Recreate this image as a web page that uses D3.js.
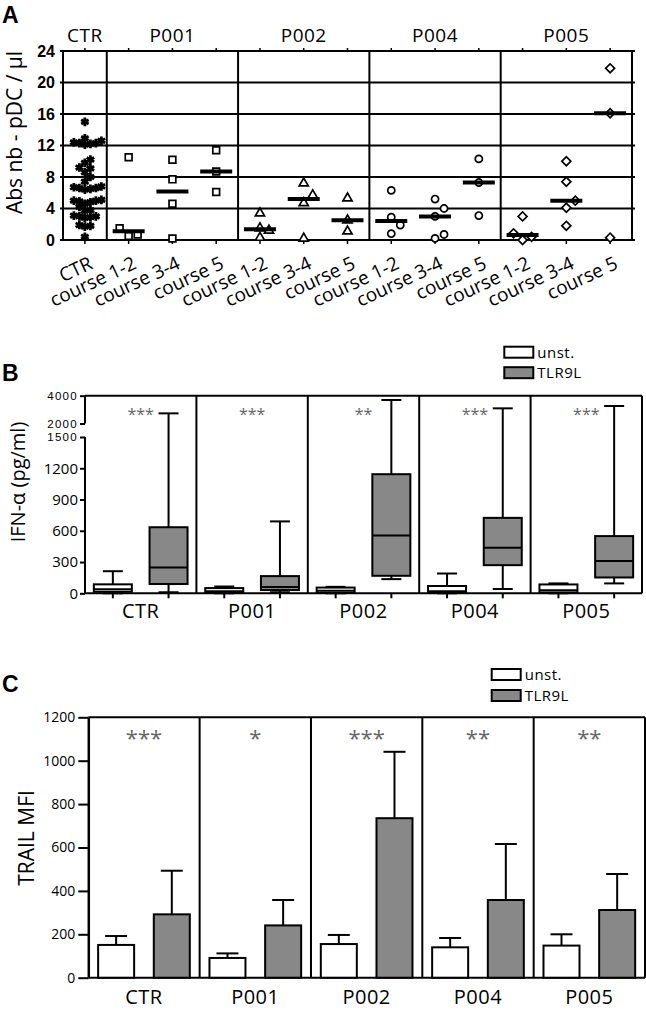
<!DOCTYPE html>
<html><head><meta charset="utf-8">
<script src="https://cdn.jsdelivr.net/npm/d3@7"></script>
<style>body{margin:0;background:#fff} svg{display:block}</style>
</head><body>
<script>
// ---------- DATA ----------
const patients = ["CTR","P001","P002","P004","P005"];
const courses = ["course 1-2","course 3-4","course 5"];
const ctrCounts = [15.0,12.9,12.6,12.4,12.3,12.3,12.2,12.1,10.2,9.8,9.2,9.1,8.6,8.0,7.4,
  6.8,6.7,6.6,6.6,6.5,6.4,5.1,5.0,5.0,4.9,4.8,4.6,4.2,3.8,3.7,3.1,3.0,3.0,2.9,2.8,1.9,1.8,1.7,0.4];
const p001Counts = [[10.5,1.5,0.5,0.7],[10.2,7.7,4.6,0.2],[11.4,8.7,6.1]];
const p002Counts = [[3.4,1.5,0.3,1.2],[7.2,5.7,4.7,0.2],[5.3,2.5,1.1]];
const p004Counts = [[6.3,2.9,1.9,0.8],[5.2,4.0,3.0,0.7,0.2],[10.3,7.3,3.1]];
const p005Counts = [[3.0,0.85,0.4,0.0],[10.0,7.4,5.0,4.1,1.8],[21.8,16.1,0.3]];
const countTicks = [0,4,8,12,16,20,24];

const seriesNames = ["unst.","TLR9L"];
// five-number summaries [min, q1, median, q3, max]
const ifnUnst = [[0,15,40,86,212],[0,5,20,50,65],[0,5,25,55,62],[0,5,20,70,190],[0,8,30,85,95]];
const ifnTlr  = [[10,89,248,634,2730],[10,31,60,165,690],[136,168,555,1143,3690],[41,270,438,724,3090],[95,152,310,549,3260]];
const ifnTicks = [0,300,600,900,1200,1500,2000,4000];
const ifnStars = ["***","***","**","***","***"];

const trailUnst   = [151,91,155,140,148];
const trailUnstSD = [41,21,42,43,52];
const trailTlr    = [292,241,735,358,312];
const trailTlrSD  = [201,117,306,258,166];
const trailTicks  = [0,200,400,600,800,1000,1200];
const trailStars  = ["***","*","***","**","**"];

// ---------- SETUP ----------
const W = 646, H = 1011;
const FONT = "'Open Sans', sans-serif";
const GRAY = "#888";
const svg = d3.select("body").append("svg").attr("width", W).attr("height", H)
  .style("font-family", FONT);

function panelLetter(t, x, y) {
  svg.append("text").attr("x", x).attr("y", y).text(t)
    .style("font-family", "'Liberation Sans', Arial, sans-serif")
    .style("font-weight", "bold").style("font-size", "23px");
}

// ---------- PANEL A ----------
(function () {
  const top = 51, bottom = 240, left = 63, right = 632;
  const byPatient = {P001: p001Counts, P002: p002Counts, P004: p004Counts, P005: p005Counts};
  const symbols = {CTR: d3.symbolAsterisk, P001: d3.symbolSquare, P002: d3.symbolTriangle,
                   P004: d3.symbolCircle, P005: d3.symbolSquare};
  const sizes = {CTR: 52, P001: 46, P002: 36, P004: 40, P005: 40};
  const cats = [{key: "CTR", label: "CTR", patient: "CTR", values: ctrCounts}];
  patients.slice(1).forEach(p => courses.forEach((c, i) =>
    cats.push({key: p + "|" + c, label: c, patient: p, values: byPatient[p][i]})));

  const x = d3.scaleBand().domain(cats.map(d => d.key)).range([left, right]);
  const y = d3.scaleLinear().domain([0, 24]).range([bottom, top]);
  const g = svg.append("g");

  g.selectAll("line.grid").data(countTicks).join("line")
    .attr("x1", left - 3).attr("x2", right + 3)
    .attr("y1", d => y(d)).attr("y2", d => y(d))
    .attr("stroke", "#000").attr("stroke-width", 1.8);

  const tickX = cats.map(d => x(d.key) + x.bandwidth() / 2);
  g.selectAll("line.tt").data(tickX).join("line")
    .attr("x1", d => d).attr("x2", d => d).attr("y1", top).attr("y2", top - 3)
    .attr("stroke", "#000").attr("stroke-width", 1.5);
  g.selectAll("line.bt").data(tickX).join("line")
    .attr("x1", d => d).attr("x2", d => d).attr("y1", bottom).attr("y2", bottom + 4)
    .attr("stroke", "#000").attr("stroke-width", 1.5);

  const sepIdx = [0, 1, 4, 7, 10, 13];
  g.selectAll("line.sep").data(sepIdx).join("line")
    .attr("x1", i => i < cats.length ? x(cats[i].key) : right)
    .attr("x2", i => i < cats.length ? x(cats[i].key) : right)
    .attr("y1", top).attr("y2", bottom)
    .attr("stroke", "#000").attr("stroke-width", 2);

  g.selectAll("text.yt").data(countTicks).join("text")
    .attr("x", left - 8).attr("y", d => y(d)).attr("dy", "0.36em")
    .attr("text-anchor", "end").text(d => d)
    .style("font-family", "'Liberation Sans', Arial, sans-serif")
    .style("font-weight", "bold").style("font-size", "16px");

  g.append("text").attr("transform", `translate(22,${(top + bottom) / 2 - 13}) rotate(-90)`)
    .attr("text-anchor", "middle").text("Abs nb - pDC / µl").style("font-size", "21px");

  const titleIdx = {CTR: 0, P001: 2, P002: 5, P004: 8, P005: 11};
  g.selectAll("text.gt").data(patients).join("text")
    .attr("x", p => tickX[titleIdx[p]]).attr("y", 42).attr("text-anchor", "middle")
    .text(p => p).style("font-size", "19px").style("letter-spacing", "0.5px");

  g.selectAll("text.xl").data(cats).join("text")
    .attr("transform", (d, i) => `translate(${tickX[i] + 9},268) rotate(-25)`)
    .attr("text-anchor", "end").text(d => d.label).style("font-size", "19px");

  function swarm(vals, dist) {
    const sorted = vals.map((v, i) => ({v, i})).sort((a, b) => a.v - b.v);
    const placed = [], out = [];
    for (const p of sorted) {
      const py = y(p.v);
      let k = 0, off = 0;
      for (;;) {
        off = k === 0 ? 0 : (k % 2 ? 1 : -1) * Math.ceil(k / 2) * dist;
        if (placed.every(q => Math.hypot(q.x - off, q.y - py) >= dist)) break;
        k++;
      }
      placed.push({x: off, y: py});
      out.push({v: p.v, dx: off, py});
    }
    return out;
  }

  cats.forEach((c, i) => {
    const pts = swarm(c.values, c.patient === "CTR" ? 5.5 : 9);
    const sym = d3.symbol().type(symbols[c.patient]).size(sizes[c.patient]);
    g.append("g").selectAll("path").data(pts).join("path")
      .attr("transform", d => `translate(${tickX[i] + d.dx},${d.py})` + (c.patient === "P005" ? " rotate(45)" : ""))
      .attr("d", sym())
      .attr("fill", c.patient === "CTR" ? "#000" : "#fff")
      .attr("stroke", "#000")
      .attr("stroke-width", c.patient === "CTR" ? 2.8 : 1.7);
    if (c.patient !== "CTR") {
      const m = d3.median(c.values);
      g.append("line").attr("x1", tickX[i] - 16).attr("x2", tickX[i] + 16)
        .attr("y1", y(m)).attr("y2", y(m)).attr("stroke", "#000").attr("stroke-width", 4);
    }
  });
  panelLetter("A", 2, 23);
})();

// ---------- LEGEND ----------
function legend(x0, y0, gap, fs) {
  const g = svg.append("g");
  seriesNames.forEach((s, i) => {
    g.append("rect").attr("x", x0).attr("y", y0 + i * gap).attr("width", 29).attr("height", 11)
      .attr("fill", i ? GRAY : "#fff").attr("stroke", "#000").attr("stroke-width", 2);
    g.append("text").attr("x", x0 + 33).attr("y", y0 + i * gap + 11).text(s)
      .style("font-size", fs + "px").style("letter-spacing", "0.5px");
  });
}

// ---------- PANEL B ----------
(function () {
  const top = 395.7, bottom = 593.3, left = 85, right = 642;
  const g = svg.append("g");
  const x = d3.scaleBand().domain(patients).range([left, right]);
  const xi = d3.scalePoint().domain(seriesNames).range([0, x.bandwidth()]).padding(0.5);
  const y = d3.scaleLinear().domain([0, 1500, 2000, 4000]).range([bottom, 437, 423.5, top]);

  g.append("line").attr("x1", left).attr("x2", right).attr("y1", top).attr("y2", top)
    .attr("stroke", "#000").attr("stroke-width", 2);
  g.append("line").attr("x1", left).attr("x2", right).attr("y1", bottom).attr("y2", bottom)
    .attr("stroke", "#000").attr("stroke-width", 2);
  const seps = patients.slice(1).map(p => x(p)).concat([right]);
  g.selectAll("line.sep").data(seps).join("line")
    .attr("x1", d => d).attr("x2", d => d).attr("y1", top).attr("y2", bottom)
    .attr("stroke", "#000").attr("stroke-width", 2);

  const ax = g.append("g").attr("transform", `translate(${left},0)`)
    .call(d3.axisLeft(y).tickValues(ifnTicks).tickSize(5).tickPadding(2).tickFormat(d3.format("d")));
  ax.select(".domain").remove();
  ax.selectAll(".tick line").attr("stroke-width", 2);
  ax.selectAll(".tick text").attr("fill", "#000")
    .style("font-family", d => d >= 1500 ? "'Liberation Sans', Arial, sans-serif" : FONT)
    .style("letter-spacing", d => d >= 1500 ? "1.3px" : "0px")
    .style("font-size", d => d >= 1500 ? "11.5px" : "15px");
  [[4000, 2000], [1500, 0]].forEach(s =>
    g.append("line").attr("x1", left).attr("x2", left).attr("y1", y(s[0])).attr("y2", y(s[1]))
      .attr("stroke", "#000").attr("stroke-width", 2));

  const bw = 38, cw = 20;
  patients.forEach((p, gi) => {
    [ifnUnst[gi], ifnTlr[gi]].forEach((st, si) => {
      const cx = x(p) + xi(seriesNames[si]);
      const bg = g.append("g");
      bg.append("line").attr("x1", cx).attr("x2", cx).attr("y1", y(st[0])).attr("y2", y(st[4]))
        .attr("stroke", "#000").attr("stroke-width", 2);
      [st[0], st[4]].forEach(v => bg.append("line").attr("x1", cx - cw / 2).attr("x2", cx + cw / 2)
        .attr("y1", y(v)).attr("y2", y(v)).attr("stroke", "#000").attr("stroke-width", 2));
      bg.append("rect").attr("x", cx - bw / 2).attr("width", bw)
        .attr("y", y(st[3])).attr("height", y(st[1]) - y(st[3]))
        .attr("fill", si ? GRAY : "#fff").attr("stroke", "#000").attr("stroke-width", 2);
      bg.append("line").attr("x1", cx - bw / 2).attr("x2", cx + bw / 2)
        .attr("y1", y(st[2])).attr("y2", y(st[2])).attr("stroke", "#000").attr("stroke-width", 2);
      g.append("line").attr("x1", cx).attr("x2", cx).attr("y1", bottom).attr("y2", bottom + 5)
        .attr("stroke", "#000").attr("stroke-width", 2);
    });
  });

  g.selectAll("text.st").data(patients).join("text")
    .attr("x", p => x(p) + x.bandwidth() / 2).attr("y", 420).attr("text-anchor", "middle")
    .text((p, i) => ifnStars[i]).attr("fill", "#666").style("font-size", "16px");

  g.selectAll("text.xl").data(patients).join("text")
    .attr("x", p => x(p) + x.bandwidth() / 2).attr("y", 618).attr("text-anchor", "middle")
    .text(p => p).style("font-size", "20px").style("letter-spacing", "0.5px");

  g.append("text").attr("transform", `translate(25,482) rotate(-90)`).attr("text-anchor", "middle")
    .text("IFN-α (pg/ml)").style("font-size", "20px");

  legend(504.3, 346.7, 20.5, 15);
  panelLetter("B", 2, 381);
})();

// ---------- PANEL C ----------
(function () {
  const top = 717.3, bottom = 977.7, left = 88.3, right = 645;
  const g = svg.append("g");
  const x = d3.scaleBand().domain(patients).range([left, right]);
  const xi = d3.scalePoint().domain(seriesNames).range([0, x.bandwidth()]).padding(0.5);
  const y = d3.scaleLinear().domain([0, 1200]).range([bottom, top]);

  g.append("line").attr("x1", left).attr("x2", right).attr("y1", top).attr("y2", top)
    .attr("stroke", "#000").attr("stroke-width", 2);
  g.append("line").attr("x1", left).attr("x2", right).attr("y1", bottom).attr("y2", bottom)
    .attr("stroke", "#000").attr("stroke-width", 2);
  const seps = patients.slice(1).map(p => x(p)).concat([right]);
  g.selectAll("line.sep").data(seps).join("line")
    .attr("x1", d => d).attr("x2", d => d).attr("y1", top).attr("y2", bottom)
    .attr("stroke", "#000").attr("stroke-width", 2);

  const ax = g.append("g").attr("transform", `translate(${left},0)`)
    .call(d3.axisLeft(y).tickValues(trailTicks).tickSize(10).tickPadding(3).tickSizeOuter(0)
      .tickFormat(d3.format("d")));
  ax.select(".domain").attr("stroke-width", 2.5);
  ax.selectAll(".tick line").attr("stroke-width", 2);
  ax.selectAll(".tick text").style("font-family", FONT).style("font-size", "14px").attr("fill", "#000");

  const bw = 36, cw = 22;
  patients.forEach((p, gi) => {
    [[trailUnst[gi], trailUnstSD[gi]], [trailTlr[gi], trailTlrSD[gi]]].forEach((d, si) => {
      const cx = x(p) + xi(seriesNames[si]);
      g.append("line").attr("x1", cx).attr("x2", cx).attr("y1", y(d[0])).attr("y2", y(d[0] + d[1]))
        .attr("stroke", "#000").attr("stroke-width", 2);
      g.append("line").attr("x1", cx - cw / 2).attr("x2", cx + cw / 2)
        .attr("y1", y(d[0] + d[1])).attr("y2", y(d[0] + d[1])).attr("stroke", "#000").attr("stroke-width", 2);
      g.append("rect").attr("x", cx - bw / 2).attr("width", bw)
        .attr("y", y(d[0])).attr("height", y(0) - y(d[0]))
        .attr("fill", si ? GRAY : "#fff").attr("stroke", "#000").attr("stroke-width", 2);
    });
  });

  g.selectAll("text.st").data(patients).join("text")
    .attr("x", p => x(p) + x.bandwidth() / 2).attr("y", 746).attr("text-anchor", "middle")
    .text((p, i) => trailStars[i]).attr("fill", "#666").style("font-size", "22px");

  g.selectAll("text.xl").data(patients).join("text")
    .attr("x", p => x(p) + x.bandwidth() / 2).attr("y", 1004).attr("text-anchor", "middle")
    .text(p => p).style("font-size", "20px").style("letter-spacing", "0.5px");

  g.append("text").attr("transform", `translate(34,838) rotate(-90)`).attr("text-anchor", "middle")
    .text("TRAIL MFI").style("font-size", "21px");

  legend(491.7, 669, 21, 15);
  panelLetter("C", 2, 692);
})();
</script>
</body></html>
